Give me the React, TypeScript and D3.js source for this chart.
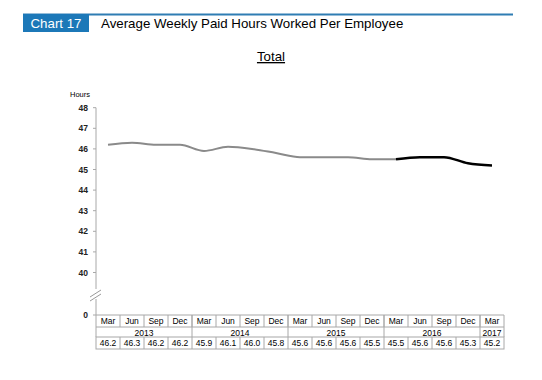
import React from "react";
import * as d3 from "d3";

const months = ["Mar","Jun","Sep","Dec","Mar","Jun","Sep","Dec","Mar","Jun","Sep","Dec","Mar","Jun","Sep","Dec","Mar"];
const years = ["2013","2014","2015","2016","2017"];
const yearSpans = [4,4,4,4,1];
const hours = [46.2,46.3,46.2,46.2,45.9,46.1,46.0,45.8,45.6,45.6,45.6,45.5,45.5,45.6,45.6,45.3,45.2];
const yTicks = [40,41,42,43,44,45,46,47,48];
const splitIndex = 12;

const W = 542, H = 380;
const X0 = 96, X1 = 504;
const Y_TOP = 107.7, Y_40 = 272.5, Y_ZERO = 315;

export default function App() {
  const x = d3.scaleBand<number>().domain(d3.range(months.length)).range([X0, X1]);
  const y = d3.scaleLinear().domain([40, 48]).range([Y_40, Y_TOP]);
  const cx = (i: number) => (x(i) as number) + x.bandwidth() / 2;
  const line = d3.line<number>().x((_, i) => cx(i)).y(d => y(d)).curve(d3.curveMonotoneX);
  const lineB = d3.line<[number, number]>().x(d => cx(d[0])).y(d => y(d[1])).curve(d3.curveMonotoneX);
  const grayPts = hours.slice(0, splitIndex + 1);
  const blackPts: [number, number][] = hours.slice(splitIndex).map((v, k) => [k + splitIndex, v]);
  const font = "Liberation Sans, Arial, sans-serif";
  const grid = "#a8a8a8";
  const r1 = 315, r2 = 327, r3 = 337, r4 = 349;
  const tfs = 8.5;
  let yearStarts: number[] = [];
  let acc = 0;
  yearSpans.forEach(s => { yearStarts.push(acc); acc += s; });

  return (
    <svg width={W} height={H} style={{ position: "absolute", left: 0, top: 0, background: "#fff" }} fontFamily={font}>
      {/* header */}
      <line x1={23} x2={513} y1={14.5} y2={14.5} stroke="#2f7db3" strokeWidth={2} />
      <rect x={23} y={14} width={66} height={18} fill="#1c78b8" />
      <text x={56} y={28} fill="#fff" fontSize={13.3} textAnchor="middle">Chart 17</text>
      <text x={101} y={28} fill="#000" fontSize={13.3}>Average Weekly Paid Hours Worked Per Employee</text>
      <text x={271} y={61} fill="#000" fontSize={13.3} textAnchor="middle" textDecoration="underline">Total</text>

      {/* y axis */}
      <text x={90} y={97} fontSize={7.5} textAnchor="end" fill="#000">Hours</text>
      <line x1={X0} x2={X0} y1={Y_TOP} y2={r3} stroke={grid} strokeWidth={1} />
      {yTicks.map(t => (
        <g key={t}>
          <line x1={X0 - 3} x2={X0} y1={y(t)} y2={y(t)} stroke={grid} />
          <text x={88} y={y(t) + 3} fontSize={8.5} fontWeight="bold" textAnchor="end" fill="#222">{t}</text>
        </g>
      ))}
      <line x1={X0 - 3} x2={X0} y1={Y_ZERO} y2={Y_ZERO} stroke={grid} />
      <text x={88} y={Y_ZERO + 3} fontSize={8.5} fontWeight="bold" textAnchor="end" fill="#222">0</text>
      {/* break marks */}
      <rect x={X0 - 2} y={289} width={4} height={10} fill="#fff" />
      <line x1={X0 - 6} x2={X0 + 5} y1={297} y2={290} stroke="#999" strokeWidth={1} />
      <line x1={X0 - 6} x2={X0 + 5} y1={301} y2={294} stroke="#999" strokeWidth={1} />

      {/* lines */}
      <path d={line(grayPts) || ""} fill="none" stroke="#8a8a8a" strokeWidth={2} />
      <path d={lineB(blackPts) || ""} fill="none" stroke="#000" strokeWidth={2.5} />

      {/* table header */}
      <line x1={X0} x2={X1} y1={r1} y2={r1} stroke={grid} />
      <line x1={X0} x2={X1} y1={r2} y2={r2} stroke={grid} />
      <line x1={X1} x2={X1} y1={r1} y2={r3} stroke={grid} />
      {months.map((m, i) => (
        <g key={"m" + i}>
          <text x={cx(i)} y={r1 + 9} fontSize={tfs} textAnchor="middle" fill="#000">{m}</text>
          {i > 0 && <line x1={x(i) as number} x2={x(i) as number} y1={r1} y2={r2} stroke={grid} />}
        </g>
      ))}
      {years.map((yr, k) => {
        const s = yearStarts[k];
        const left = x(s) as number;
        const right = left + yearSpans[k] * x.bandwidth();
        return (
          <g key={yr}>
            {k > 0 && <line x1={left} x2={left} y1={r1} y2={r3} stroke={grid} />}
            <text x={(left + right) / 2} y={r2 + 8.5} fontSize={tfs} textAnchor="middle" fill="#000">{yr}</text>
          </g>
        );
      })}
      {/* value row */}
      <rect x={X0} y={r3} width={X1 - X0} height={r4 - r3} fill="none" stroke={grid} />
      {hours.map((v, i) => (
        <g key={"v" + i}>
          {i > 0 && <line x1={x(i) as number} x2={x(i) as number} y1={r3} y2={r4} stroke={grid} />}
          <text x={cx(i)} y={r3 + 9.2} fontSize={tfs} textAnchor="middle" fill="#000">{v.toFixed(1)}</text>
        </g>
      ))}
    </svg>
  );
}
